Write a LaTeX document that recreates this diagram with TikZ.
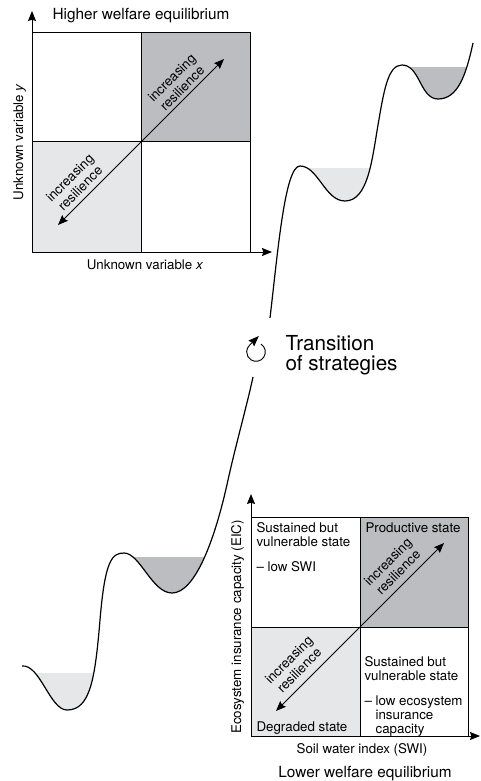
\documentclass[tikz,border=0pt]{standalone}
\usepackage{fontspec}
\setmainfont{TeX Gyre Heros}
\usetikzlibrary{arrows.meta}

\definecolor{darkwater}{HTML}{BCBDC0}
\definecolor{lightwater}{HTML}{E6E7E8}

\def\lowland{(22,666) .. controls (40,664) and (50,710) .. (67,710)
  .. controls (90,710) and (95,680) .. (100,620)
  .. controls (105,560) and (112,553) .. (124,553)
  .. controls (140,553) and (152,593) .. (172,593)
  .. controls (195,593) and (215,540) .. (228,480)
  .. controls (236,444) and (247,405) .. (253,377)}
\def\highland{(270,318) .. controls (278,250) and (285,166) .. (300,166)
  .. controls (318,166) and (325,201) .. (345,201)
  .. controls (368,201) and (372,160) .. (378,125)
  .. controls (384,90) and (388,65) .. (402,65)
  .. controls (420,65) and (420,99) .. (438,99)
  .. controls (458,99) and (466,75) .. (473,43)}

\begin{document}
\begin{tikzpicture}[x=0.75pt,y=-0.75pt,line width=0.75pt,
  >={Stealth[length=7.5pt,width=6pt,inset=1pt]},
  quad text/.style={anchor=north west,align=left,inner sep=0pt,font=\fontsize{10}{10.5}\selectfont},
  axis label/.style={anchor=base,inner sep=0pt,font=\fontsize{10}{12}\selectfont},
  title label/.style={anchor=base,inner sep=0pt,font=\fontsize{11.5}{14}\selectfont},
  res label/.style={rotate=45,align=center,inner sep=0pt,font=\fontsize{10}{11}\selectfont},
  ridge/.style={line width=0.9pt}]

 \useasboundingbox (0,0) rectangle (480,781);

 % higher welfare panel
 \fill[lightwater] (32,142) rectangle (141,252);
 \fill[darkwater] (141,33) rectangle (250,142);
 \draw (32,33) rectangle (250,252);
 \draw (141,33) -- (141,252);
 \draw (32,142) -- (250,142);

 \coordinate (o1) at (32,252);
 \coordinate (ytip1) at (32,11);
 \coordinate (xtip1) at (272,252);
 \coordinate (sw1) at (58,225);
 \coordinate (ne1) at (224,59);

 \node[title label] (high) at (141,20) {Higher welfare equilibrium};
 \node[axis label] (xvar) at (145,269) {Unknown variable \textit{x}};
 \node[axis label,rotate=90] (yvar) at (23,142) {Unknown variable \textit{y}};
 \node[res label] (res1a) at (177,83) {increasing\\resilience};
 \node[res label] (res1b) at (75,183) {increasing\\resilience};

 \draw[->] (o1) -- (ytip1);
 \draw[->] (o1) -- (xtip1);
 \draw[<->] (sw1) -- (ne1);

 % lower welfare panel
 \fill[lightwater] (251,627) rectangle (360,736);
 \fill[darkwater] (360,517) rectangle (468,627);
 \draw (251,517) rectangle (468,736);
 \draw (360,517) -- (360,736);
 \draw (251,627) -- (468,627);

 \coordinate (o2) at (251,736);
 \coordinate (ytip2) at (251,494);
 \coordinate (xtip2) at (480,736);
 \coordinate (sw2) at (276,711);
 \coordinate (ne2) at (444,543);

 \node[quad text] (swilow) at (256,522) {Sustained but\\vulnerable state\\[8pt]– low SWI};
 \node[quad text] (prod) at (365,522) {Productive state};
 \node[quad text,anchor=base west] (degr) at (256,731) {Degraded state};
 \node[quad text] (eiclow) at (364,656) {Sustained but\\vulnerable state\\[8pt]– low ecosystem\\\hphantom{– }insurance\\\hphantom{– }capacity};
 \node[res label] (res2a) at (393,567) {increasing\\resilience};
 \node[res label] (res2b) at (294,665) {increasing\\resilience};
 \node[axis label] (swi) at (362,753) {Soil water index (SWI)};
 \node[axis label,rotate=90] (eic) at (241,627) {Ecosystem insurance capacity (EIC)};
 \node[title label] (low) at (365,777) {Lower welfare equilibrium};

 \draw[->] (o2) -- (ytip2);
 \draw[->] (o2) -- (xtip2);
 \draw[<->] (sw2) -- (ne2);

 % wells
 \begin{scope}
  \clip (25,673) rectangle (110,715);
  \fill[lightwater] \lowland -- (253,300) -- (22,300) -- cycle;
 \end{scope}
 \begin{scope}
  \clip (130,557) rectangle (215,600);
  \fill[darkwater] \lowland -- (253,300) -- (22,300) -- cycle;
 \end{scope}
 \begin{scope}
  \clip (302,169) rectangle (375,205);
  \fill[lightwater] \highland -- (473,0) -- (270,0) -- cycle;
 \end{scope}
 \begin{scope}
  \clip (405,68) rectangle (472,105);
  \fill[darkwater] \highland -- (473,0) -- (270,0) -- cycle;
 \end{scope}
 \draw[ridge] \lowland;
 \draw[ridge] \highland;

 % transition
 \coordinate (turn) at (256,352);
 \draw[-{Stealth[length=8pt,width=6pt,inset=1pt]},line width=0.7pt] (turn) ++(58:7pt)
   arc[start angle=58,end angle=-225,radius=7pt] -- ++(45:10pt);
 \node[anchor=north west,align=left,inner sep=0pt,font=\fontsize{15.5}{15}\selectfont] (trans) at (285,335) {Transition\\of strategies};

\end{tikzpicture}
\end{document}
